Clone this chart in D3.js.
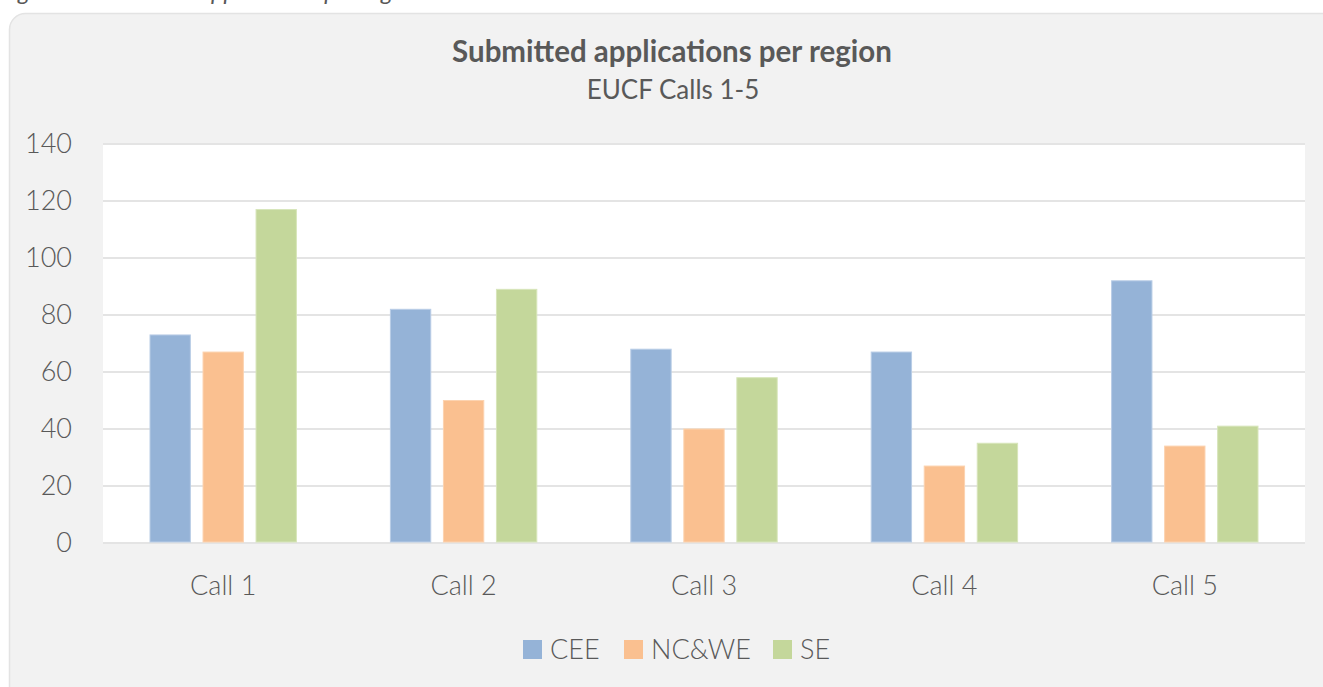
<!DOCTYPE html>
<html>
<head>
<meta charset="utf-8">
<script src="https://cdn.jsdelivr.net/npm/d3@7"></script>
<style>
	body { margin: 0; background: #fff; }
	svg { display: block; }
	text { font-family: 'Source Sans Pro', Lato, 'Open Sans', sans-serif; fill: #595959; }
</style>
</head>
<body>
<div id="root"></div>
<script>
const calls = ['Call 1', 'Call 2', 'Call 3', 'Call 4', 'Call 5']
const regions = ['CEE', 'NC&WE', 'SE']
const cee = [73, 82, 68, 67, 92]
const ncwe = [67, 50, 40, 27, 34]
const se = [117, 89, 58, 35, 41]
const yTicks = [0, 20, 40, 60, 80, 100, 120, 140]

const C = {
	width: 1323,
	height: 687,
	plot: { left: 103, right: 1305, top: 144, bottom: 543 },
	colors: ['#95b3d7', '#fac090', '#c4d79b'],
	strokes: ['#b9cde6', '#fcd3b0', '#d7e5ba'],
}

const rows = calls.map((c, i) => ({ call: c, values: [cee[i], ncwe[i], se[i]] }))

const svg = d3.select('#root').append('svg')
	.attr('width', C.width)
	.attr('height', C.height)

// caption, cut off at the top like in the source page
svg.append('text')
	.attr('x', 0)
	.attr('y', 0)
	.attr('font-size', 24)
	.attr('font-style', 'italic')
	.attr('fill', '#404040')
	.text('Figure 6: Submitted applications per region')

// card
svg.append('rect')
	.attr('x', 9.5)
	.attr('y', 13.5)
	.attr('width', 1340)
	.attr('height', 700)
	.attr('rx', 16)
	.attr('fill', '#f2f2f2')
	.attr('stroke', '#e3e3e3')
	.attr('stroke-width', 1.5)

svg.append('text')
	.attr('x', 672)
	.attr('y', 62)
	.attr('text-anchor', 'middle')
	.attr('font-size', 29.5)
	.attr('font-weight', 'bold')
	.text('Submitted applications per region')

svg.append('text')
	.attr('x', 673)
	.attr('y', 99)
	.attr('text-anchor', 'middle')
	.attr('font-size', 26)
	.attr('font-weight', 400)
	.text('EUCF Calls 1-5')

const P = C.plot

const x0 = d3.scaleBand()
	.domain(calls)
	.range([P.left, P.right])

const x1 = d3.scaleBand()
	.domain(regions)
	.range([46.5, 240.4 - 46.5])
	.paddingInner(0.22)

const y = d3.scaleLinear()
	.domain([0, 140])
	.range([P.bottom, P.top])

svg.append('rect')
	.attr('x', P.left)
	.attr('y', P.top)
	.attr('width', P.right - P.left)
	.attr('height', P.bottom - P.top)
	.attr('fill', '#fff')

// gridlines
svg.append('g')
	.selectAll('line')
	.data(yTicks)
	.join('line')
	.attr('x1', P.left)
	.attr('x2', P.right)
	.attr('y1', d => y(d))
	.attr('y2', d => y(d))
	.attr('stroke', '#e4e4e4')
	.attr('stroke-width', 2)

// y axis labels
svg.append('g')
	.selectAll('text')
	.data(yTicks)
	.join('text')
	.attr('x', 72)
	.attr('y', d => y(d))
	.attr('dy', '0.35em')
	.attr('text-anchor', 'end')
	.attr('font-size', 27)
	.attr('font-weight', 300)
	.text(d => d)

// bars
const groups = svg.append('g')
	.selectAll('g')
	.data(rows)
	.join('g')
	.attr('transform', d => `translate(${x0(d.call)},0)`)

groups.selectAll('rect')
	.data(d => d.values.map((v, i) => ({ region: regions[i], value: v, i })))
	.join('rect')
	.attr('x', d => x1(d.region) + 0.5)
	.attr('y', d => y(d.value))
	.attr('width', x1.bandwidth() - 1)
	.attr('height', d => y(0) - y(d.value) - 1)
	.attr('fill', d => C.colors[d.i])
	.attr('stroke', d => C.strokes[d.i])
	.attr('stroke-width', 1)

// x labels
svg.append('g')
	.selectAll('text')
	.data(calls)
	.join('text')
	.attr('x', d => x0(d) + x0.bandwidth() / 2)
	.attr('y', 595)
	.attr('text-anchor', 'middle')
	.attr('font-size', 27)
	.attr('font-weight', 300)
	.text(d => d)

// legend
const legendX = [523, 624, 773]
const legend = svg.append('g')
	.selectAll('g')
	.data(regions)
	.join('g')
	.attr('transform', (d, i) => `translate(${legendX[i]},640)`)

legend.append('rect')
	.attr('width', 19)
	.attr('height', 19)
	.attr('fill', (d, i) => C.colors[i])

legend.append('text')
	.attr('x', 27)
	.attr('y', 19)
	.attr('font-size', 27)
	.attr('font-weight', 300)
	.text(d => d)
</script>
</body>
</html>
